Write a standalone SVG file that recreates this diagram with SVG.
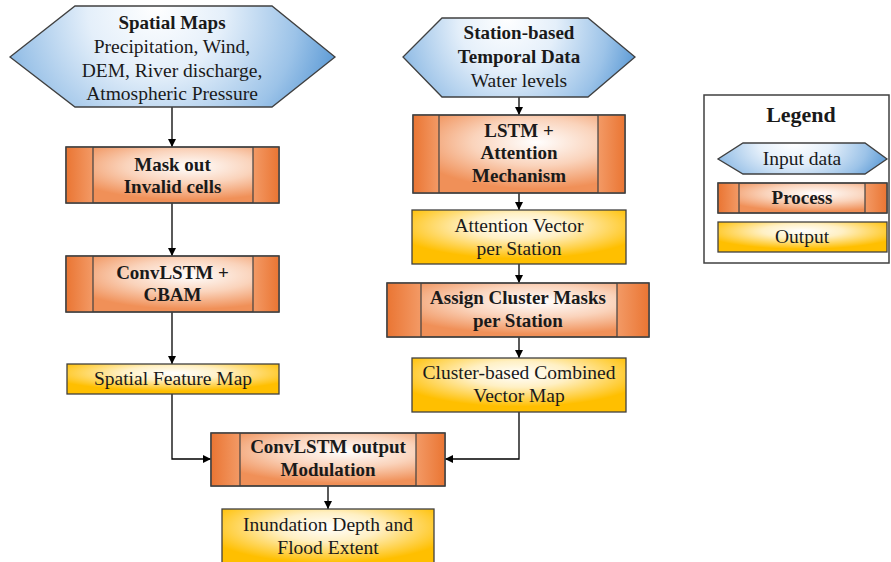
<svg xmlns="http://www.w3.org/2000/svg" width="891" height="562" viewBox="0 0 891 562">
<defs>
  <radialGradient id="inG" cx="45%" cy="15%" r="60%" fx="45%" fy="10%" gradientTransform="translate(0.45,0.15) scale(1,3) translate(-0.45,-0.15)">
    <stop offset="0%" stop-color="#ffffff"/>
    <stop offset="35%" stop-color="#e4effa"/>
    <stop offset="72%" stop-color="#9cc3e8"/>
    <stop offset="100%" stop-color="#4f92d2"/>
  </radialGradient>
  <radialGradient id="procG" cx="58%" cy="35%" r="60%">
    <stop offset="0%" stop-color="#ffffff"/>
    <stop offset="50%" stop-color="#fad3bb"/>
    <stop offset="100%" stop-color="#f09058"/>
  </radialGradient>
  <linearGradient id="sideL" x1="0" y1="0" x2="1" y2="0">
    <stop offset="0%" stop-color="#ea7634"/>
    <stop offset="100%" stop-color="#f39a66"/>
  </linearGradient>
  <linearGradient id="sideR" x1="0" y1="0" x2="1" y2="0">
    <stop offset="0%" stop-color="#f39a66"/>
    <stop offset="100%" stop-color="#ea7634"/>
  </linearGradient>
  <radialGradient id="outG" cx="50%" cy="30%" r="60%">
    <stop offset="0%" stop-color="#ffffff"/>
    <stop offset="40%" stop-color="#fff0c4"/>
    <stop offset="100%" stop-color="#ffbf00"/>
  </radialGradient>
  <marker id="arr" markerUnits="userSpaceOnUse" markerWidth="9" markerHeight="8" refX="8" refY="4" orient="auto">
    <path d="M0,0 L8,4 L0,8 Z" fill="#000"/>
  </marker>
</defs>
<style>
  .shape { stroke: #404040; stroke-width: 1.3; }
  .in { fill: url(#inG); }
  .proc { fill: url(#procG); }
  .sl { fill: url(#sideL); }
  .sr { fill: url(#sideR); }
  .out { fill: url(#outG); }
  .div { stroke: #404040; stroke-width: 1.2; }
  text { font-family: "Liberation Serif", "Times New Roman", serif; fill: #1a1a1a; text-anchor: middle; }
  .r { font-size: 19.5px; }
  .b { font-size: 19px; font-weight: bold; }
  .lg { font-size: 22px; font-weight: bold; }
  .conn path { fill: none; stroke: #000; stroke-width: 1.3; }
</style>

<g class="conn" id="connectors">
  <path d="M172,107 L172,147" marker-end="url(#arr)"/>
  <path d="M172,203 L172,256" marker-end="url(#arr)"/>
  <path d="M172,312 L172,364" marker-end="url(#arr)"/>
  <path d="M172,394 L172,459 L211,459" marker-end="url(#arr)"/>
  <path d="M519,97 L519,115" marker-end="url(#arr)"/>
  <path d="M519,193 L519,210" marker-end="url(#arr)"/>
  <path d="M519,264 L519,283" marker-end="url(#arr)"/>
  <path d="M519,337 L519,358" marker-end="url(#arr)"/>
  <path d="M519,412 L519,459 L445,459" marker-end="url(#arr)"/>
  <path d="M328,486 L328,509" marker-end="url(#arr)"/>
</g>

<g id="spatial-maps">
  <polygon class="shape in" points="75,6 272,6 335,57 272,107 75,107 10,57"/>
  <text class="b" x="172" y="29">Spatial Maps</text>
  <text class="r" x="172" y="53">Precipitation, Wind,</text>
  <text class="r" x="172" y="77">DEM, River discharge,</text>
  <text class="r" x="172" y="100">Atmospheric Pressure</text>
</g>

<g id="station-data">
  <polygon class="shape in" points="442,18 588,18 635,57 588,97 442,97 403,57"/>
  <text class="b" x="519" y="39">Station-based</text>
  <text class="b" x="519" y="63">Temporal Data</text>
  <text class="r" x="519" y="87">Water levels</text>
</g>

<g id="mask-out">
  <rect class="shape proc" x="66" y="147" width="213" height="56"/>
  <rect class="sl" x="66.6" y="147.6" width="26.4" height="54.8"/>
  <rect class="sr" x="253" y="147.6" width="25.4" height="54.8"/>
  <rect class="shape" fill="none" x="66" y="147" width="213" height="56"/>
  <line class="div" x1="93" y1="147" x2="93" y2="203"/>
  <line class="div" x1="253" y1="147" x2="253" y2="203"/>
  <text class="b" x="172.5" y="171">Mask out</text>
  <text class="b" x="172.5" y="193">Invalid cells</text>
</g>

<g id="convlstm-cbam">
  <rect class="shape proc" x="66" y="256" width="213" height="56"/>
  <rect class="sl" x="66.6" y="256.6" width="26.4" height="54.8"/>
  <rect class="sr" x="253" y="256.6" width="25.4" height="54.8"/>
  <rect class="shape" fill="none" x="66" y="256" width="213" height="56"/>
  <line class="div" x1="93" y1="256" x2="93" y2="312"/>
  <line class="div" x1="253" y1="256" x2="253" y2="312"/>
  <text class="b" x="172.5" y="279">ConvLSTM +</text>
  <text class="b" x="172.5" y="301">CBAM</text>
</g>

<g id="spatial-feature-map">
  <rect class="shape out" x="67" y="364" width="212" height="30"/>
  <text class="r" x="173" y="385">Spatial Feature Map</text>
</g>

<g id="lstm-attention">
  <rect class="shape proc" x="413" y="115" width="212" height="78"/>
  <rect class="sl" x="413.6" y="115.6" width="25.4" height="76.8"/>
  <rect class="sr" x="598" y="115.6" width="26.4" height="76.8"/>
  <rect class="shape" fill="none" x="413" y="115" width="212" height="78"/>
  <line class="div" x1="439" y1="115" x2="439" y2="193"/>
  <line class="div" x1="598" y1="115" x2="598" y2="193"/>
  <text class="b" x="519" y="137">LSTM +</text>
  <text class="b" x="519" y="159">Attention</text>
  <text class="b" x="519" y="182">Mechanism</text>
</g>

<g id="attention-vector">
  <rect class="shape out" x="412" y="210" width="214" height="54"/>
  <text class="r" x="519" y="232">Attention Vector</text>
  <text class="r" x="519" y="255">per Station</text>
</g>

<g id="assign-cluster">
  <rect class="shape proc" x="387" y="283" width="262" height="54"/>
  <rect class="sl" x="387.6" y="283.6" width="33.4" height="52.8"/>
  <rect class="sr" x="617" y="283.6" width="31.4" height="52.8"/>
  <rect class="shape" fill="none" x="387" y="283" width="262" height="54"/>
  <line class="div" x1="421" y1="283" x2="421" y2="337"/>
  <line class="div" x1="617" y1="283" x2="617" y2="337"/>
  <text class="b" x="518" y="304">Assign Cluster Masks</text>
  <text class="b" x="518" y="327">per Station</text>
</g>

<g id="cluster-vector-map">
  <rect class="shape out" x="412" y="358" width="214" height="54"/>
  <text class="r" x="519" y="379">Cluster-based Combined</text>
  <text class="r" x="519" y="402">Vector Map</text>
</g>

<g id="convlstm-modulation">
  <rect class="shape proc" x="211" y="433" width="234" height="53"/>
  <rect class="sl" x="211.6" y="433.6" width="28.4" height="51.8"/>
  <rect class="sr" x="416" y="433.6" width="28.4" height="51.8"/>
  <rect class="shape" fill="none" x="211" y="433" width="234" height="53"/>
  <line class="div" x1="240" y1="433" x2="240" y2="486"/>
  <line class="div" x1="416" y1="433" x2="416" y2="486"/>
  <text class="b" x="328" y="453">ConvLSTM output</text>
  <text class="b" x="328" y="476">Modulation</text>
</g>

<g id="inundation">
  <rect class="shape out" x="222" y="509" width="212" height="60"/>
  <text class="r" x="328" y="531">Inundation Depth and</text>
  <text class="r" x="328" y="554">Flood Extent</text>
</g>

<g id="legend">
  <rect x="704" y="95" width="185" height="168" fill="#ffffff" stroke="#404040" stroke-width="1.5"/>
  <text class="lg" x="801" y="122">Legend</text>
  <polygon class="shape in" points="743,143 865,143 887,159 865,174 743,174 718,159"/>
  <text class="r" x="802" y="165">Input data</text>
  <rect class="shape proc" x="718" y="183" width="169" height="30"/>
  <rect class="sl" x="718.6" y="183.6" width="20.4" height="28.8"/>
  <rect class="sr" x="865" y="183.6" width="21.4" height="28.8"/>
  <rect class="shape" fill="none" x="718" y="183" width="169" height="30"/>
  <line class="div" x1="739" y1="183" x2="739" y2="213"/>
  <line class="div" x1="865" y1="183" x2="865" y2="213"/>
  <text class="b" x="802" y="204">Process</text>
  <rect class="shape out" x="718" y="222" width="169" height="30"/>
  <text class="r" x="802" y="243">Output</text>
</g>
</svg>
